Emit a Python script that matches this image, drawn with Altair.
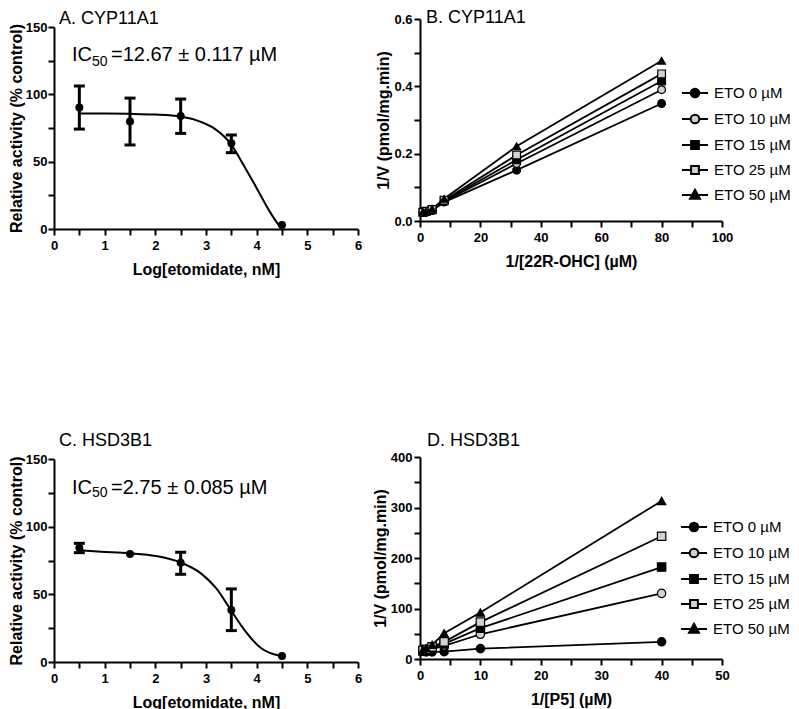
import altair as alt
import pandas as pd

FONT = "Liberation Sans"

# ---------------- Panel A: CYP11A1 dose response ----------------
a_x = [0.5, 1.5, 2.5, 3.5, 4.5]
a_y = [90.3, 79.8, 83.9, 63.6, 3.0]
a_lo = [74.2, 62.4, 71.0, 56.7, None]
a_hi = [106.2, 97.2, 96.5, 69.8, None]
a_fit_x = [0.5, 1.0, 1.5, 2.0, 2.5, 2.9, 3.16, 3.48, 3.76, 4.02, 4.28, 4.45]
a_fit_y = [85.8, 85.7, 85.5, 85.0, 83.6, 79.5, 74.7, 63.6, 46.3, 29.0, 11.6, 2.0]

# ---------------- Panel C: HSD3B1 dose response ----------------
c_x = [0.5, 1.5, 2.5, 3.5, 4.5]
c_y = [84.5, 79.8, 73.4, 38.4, 4.4]
c_lo = [80.8, None, 64.8, 23.2, None]
c_hi = [87.7, None, 81.1, 54.0, None]
c_fit_x = [0.5, 0.93, 1.49, 2.01, 2.51, 2.90, 3.20, 3.49, 3.76, 4.09, 4.48]
c_fit_y = [82.5, 81.5, 80.3, 78.3, 73.4, 65.5, 54.5, 38.4, 23.6, 10.1, 4.4]

# ---------------- Lineweaver-Burk panels ----------------
series = ["ETO 0 µM", "ETO 10 µM", "ETO 15 µM", "ETO 25 µM", "ETO 50 µM"]
marker_shapes = ["circle", "circle", "square", "square", "triangle-up"]
marker_fills = ["black", "#d2d2d2", "black", "#d2d2d2", "black"]

b_x = [1, 2, 4, 8, 32, 80]
b_eto0 = [0.025, 0.027, 0.031, 0.056, 0.151, 0.349]
b_eto10 = [0.025, 0.028, 0.032, 0.058, 0.171, 0.390]
b_eto15 = [0.026, 0.028, 0.033, 0.060, 0.182, 0.416]
b_eto25 = [0.026, 0.029, 0.034, 0.062, 0.196, 0.437]
b_eto50 = [0.027, 0.030, 0.036, 0.066, 0.222, 0.476]

d_x = [0.5, 1, 2, 4, 10, 40]
d_eto0 = [17, 14, 14, 14.5, 20.5, 34]
d_eto10 = [15, 17, 20, 26, 49, 130]
d_eto15 = [16, 18, 22, 30, 61, 182]
d_eto25 = [17, 19, 24, 34, 73, 243]
d_eto50 = [18, 21, 28, 51, 92, 313]

# legend symbols: line stub + marker
circle_path = ("M-1,0H-0.33M0.33,0H1"
               "M-0.33,0C-0.33,-0.1823,-0.1823,-0.33,0,-0.33C0.1823,-0.33,0.33,-0.1823,0.33,0"
               "C0.33,0.1823,0.1823,0.33,0,0.33C-0.1823,0.33,-0.33,0.1823,-0.33,0Z")
square_path = "M-1,0H-0.3M0.3,0H1M-0.3,-0.3H0.3V0.3H-0.3Z"
tri_path = "M-1,0H-0.22M0.22,0H1M0,-0.4L0.38,0.28L-0.38,0.28Z"
legend_paths = [circle_path, circle_path, square_path, square_path, tri_path]


def title_params(text, dx, offset):
    return alt.TitleParams(text, anchor="start", frame="group", dx=dx, offset=offset,
                           fontSize=18, fontWeight="normal", font=FONT, color="black")


def dose_panel(px, py, lo, hi, fx, fy, title, dx, offset, ic_df, height, top_gap):
    pts = pd.DataFrame({"x": px, "y": py, "lo": lo, "hi": hi})
    fit = pd.DataFrame({"x": fx, "y": fy})
    xs = alt.Scale(domain=[0, 6], nice=False)
    if top_gap:
        ys = alt.Scale(domain=[0, 150], nice=False, range=[height, top_gap])
    else:
        ys = alt.Scale(domain=[0, 150], nice=False)
    xax = alt.Axis(values=[0, 0.5, 1, 1.5, 2, 2.5, 3, 3.5, 4, 4.5, 5, 5.5, 6],
                   labelExpr="datum.value % 1 === 0 ? format(datum.value, 'd') : ''",
                   labelFlush=False, labelPadding=4, titlePadding=9,
                   title="Log[etomidate, nM]")
    yax = alt.Axis(values=[0, 25, 50, 75, 100, 125, 150],
                   labelExpr="datum.value % 50 === 0 ? datum.label : ''",
                   labelPadding=1, titlePadding=1,
                   title="Relative activity (% control)")
    X = lambda f: alt.X(f, scale=xs, axis=xax)
    Y = lambda f: alt.Y(f, scale=ys, axis=yax)
    curve = alt.Chart(fit).mark_line(color="black", strokeWidth=2, interpolate="monotone").encode(
        x=X("x:Q"), y=Y("y:Q"))
    rules = alt.Chart(pts).mark_rule(color="black", strokeWidth=3).encode(
        x=X("x:Q"), y=Y("lo:Q"), y2="hi:Q")
    cap_lo = alt.Chart(pts).mark_tick(color="black", thickness=3, size=11, orient="horizontal",
                                      opacity=1).encode(x=X("x:Q"), y=Y("lo:Q"))
    cap_hi = alt.Chart(pts).mark_tick(color="black", thickness=3, size=11, orient="horizontal",
                                      opacity=1).encode(x=X("x:Q"), y=Y("hi:Q"))
    dots = alt.Chart(pts).mark_circle(color="black", size=64, opacity=1).encode(
        x=X("x:Q"), y=Y("y:Q"))
    txt = alt.Chart(ic_df).mark_text(align="left", baseline="middle", font=FONT,
                                     color="black").encode(
        x=X("x:Q"), y=Y("y:Q"), text="t:N", size=alt.Size("fs:Q", scale=None))
    return alt.layer(curve, rules, cap_lo, cap_hi, dots, txt).properties(
        width=304, height=height, title=title_params(title, dx, offset))


def kin_panel(xv, vals, xdom, xticks, xlab_mod, ydom, yticks, ylab_expr, xtitle, title,
              dx, offset, leg_x, leg_y, msize):
    rows = []
    for i, s in enumerate(series):
        for a, b in zip(xv, vals[i]):
            rows.append({"x": a, "y": b, "series": s, "mk": marker_shapes[i], "fc": marker_fills[i]})
    df = pd.DataFrame(rows)
    xs = alt.Scale(domain=xdom, nice=False)
    ys = alt.Scale(domain=ydom, nice=False)
    xax = alt.Axis(values=xticks, labelExpr=f"datum.value % {xlab_mod} === 0 ? datum.label : ''",
                   labelFlush=False, labelPadding=4, titlePadding=9, title=xtitle)
    yax = alt.Axis(values=yticks, labelExpr=ylab_expr, labelPadding=2, titlePadding=2,
                   title="1/V (pmol/mg.min)")
    X = alt.X("x:Q", scale=xs, axis=xax)
    Y = alt.Y("y:Q", scale=ys, axis=yax)
    leg = alt.Legend(orient="none", legendX=leg_x, legendY=leg_y, title=None,
                     symbolSize=676, symbolStrokeWidth=2, symbolStrokeColor="black",
                     labelOffset=5, rowPadding=3, padding=0, labelFont=FONT,
                     labelFontSize=15, labelColor="black", symbolOpacity=1)
    lines = alt.Chart(df).mark_line(color="black", strokeWidth=1.8).encode(
        x=X, y=Y, detail="series:N")
    pts = alt.Chart(df).mark_point(filled=True, size=msize, stroke="black", strokeWidth=1.2,
                                   opacity=1).encode(
        x=X, y=Y, shape=alt.Shape("mk:N", scale=None), fill=alt.Fill("fc:N", scale=None))
    legend_layer = alt.Chart(df).transform_filter("false").mark_point(
        filled=True, stroke="black", strokeWidth=2, opacity=1).encode(
        x=X, y=Y,
        shape=alt.Shape("series:N", scale=alt.Scale(domain=series, range=legend_paths), legend=leg),
        fill=alt.Fill("series:N", scale=alt.Scale(domain=series, range=marker_fills), legend=leg))
    return alt.layer(lines, pts, legend_layer).properties(
        width=302, height=202, title=title_params(title, dx, offset))


ic_a = pd.DataFrame({"x": [0.355, 0.75, 1.125], "y": [129.2, 124.0, 129.2],
                     "t": ["IC", "50", "=12.67 ± 0.117 µM"], "fs": [20, 14, 20]})
ic_c = pd.DataFrame({"x": [0.355, 0.75, 1.125], "y": [128.4, 124.7, 128.4],
                     "t": ["IC", "50", "=2.75 ± 0.085 µM"], "fs": [20, 14, 20]})

A = dose_panel(a_x, a_y, a_lo, a_hi, a_fit_x, a_fit_y, "A. CYP11A1", 5, -9, ic_a, 210, 8)
C = dose_panel(c_x, c_y, c_lo, c_hi, c_fit_x, c_fit_y, "C. HSD3B1", 5, 3.5, ic_c, 203, 0)

B = kin_panel(b_x, [b_eto0, b_eto10, b_eto15, b_eto25, b_eto50], [0, 100],
              [0, 10, 20, 30, 40, 50, 60, 70, 80, 90, 100], 20, [0, 0.6],
              [0, 0.1, 0.2, 0.3, 0.4, 0.5, 0.6],
              "round(datum.value * 10) % 2 === 0 ? format(datum.value, '.1f') : ''",
              "1/[22R-OHC] (µM)", "B. CYP11A1", 6, -13.5, 261, 60, 60)
D = kin_panel(d_x, [d_eto0, d_eto10, d_eto15, d_eto25, d_eto50], [0, 50],
              [0, 5, 10, 15, 20, 25, 30, 35, 40, 45, 50], 10, [0, 400],
              [0, 50, 100, 150, 200, 250, 300, 350, 400],
              "datum.value % 100 === 0 ? datum.label : ''",
              "1/[P5] (µM)", "D. HSD3B1", 7, 1.5, 260, 56, 70)

left = alt.vconcat(A, C, spacing=154).resolve_scale(shape="independent", fill="independent")
right = alt.vconcat(B, D, spacing=162).resolve_scale(shape="independent", fill="independent")

chart = alt.hconcat(left, right, spacing=10).resolve_scale(
    shape="independent", fill="independent"
).properties(padding=0).configure(
    font=FONT
).configure_view(stroke=None).configure_axis(
    domainColor="black", domainWidth=2, tickColor="black", tickWidth=2, tickSize=6,
    labelFont=FONT, labelFontSize=13, labelFontWeight="bold", labelColor="black",
    titleFont=FONT, titleFontSize=16, titleFontWeight="bold", titleColor="black",
    grid=False
)

chart.save("out.html", embed_options={"renderer": "svg", "actions": False})
